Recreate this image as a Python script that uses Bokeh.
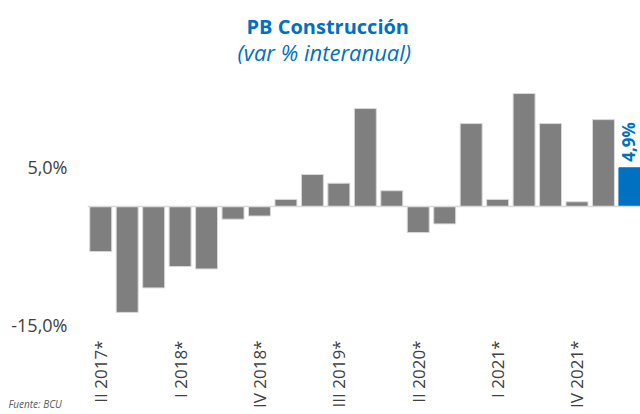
from bokeh.plotting import figure
from bokeh.models import Title, Span, FixedTicker, ColumnDataSource, LabelSet, Label, Range1d
from bokeh.embed import file_html
from bokeh.resources import INLINE
from bokeh.core.properties import value

# ---- data ----
quarters = ["II 2017*", "III 2017*", "IV 2017*", "I 2018*", "II 2018*", "III 2018*",
            "IV 2018*", "I 2019*", "II 2019*", "III 2019*", "IV 2019*", "I 2020*",
            "II 2020*", "III 2020*", "IV 2020*", "I 2021*", "II 2021*", "III 2021*",
            "IV 2021*", "I 2022*", "II 2022*"]
values = [-5.7, -13.4, -10.3, -7.6, -7.9, -1.6, -1.2, 0.9, 4.05, 2.95, 12.4, 2.0,
          -3.3, -2.2, 10.5, 0.9, 14.3, 10.5, 0.6, 11.0, 4.9]
last_label = ["4,9%"]
y_ticks = [-15, 5]
y_tick_labels = ["-15,0%", "5,0%"]
label_step = 3
title_text = "PB Construcción"
subtitle_text = "(var % interanual)"
source_note = "Fuente: BCU"

GRAY = "#7f7f7f"
BLUE = "#0070c0"
TXT = "#404040"
NOTE = "#595959"
FONT = "Open Sans"

n = len(quarters)
xs = list(range(n))
colors = [GRAY] * (n - 1) + [BLUE]
outlines = ["#d9d9d9"] * (n - 1) + [BLUE]
src = ColumnDataSource(dict(x=xs, top=values, color=colors, line=outlines, q=quarters))

p = figure(width=640, height=414, x_range=Range1d(-0.5, n - 0.6),
           y_range=Range1d(-16.45, 15.95), output_backend="svg",
           toolbar_location=None, title=None,
           min_border_left=87, min_border_right=0, min_border_top=80,
           min_border_bottom=78)
p.outline_line_color = None
p.grid.visible = False
p.background_fill_color = "white"

p.vbar(x="x", top="top", bottom=0, width=0.83, fill_color="color",
       line_color="line", line_width=1, source=src)

p.add_layout(Span(location=0, dimension="width", line_color="#d9d9d9", line_width=1.5))

# highlight label on last bar
lsrc = ColumnDataSource(dict(x=[xs[-1]], y=[values[-1]], t=last_label))
p.add_layout(LabelSet(x="x", y="y", text="t", source=lsrc, angle=1.5708,
                      text_align="left", text_baseline="middle", y_offset=6,
                      x_offset=-1,
                      text_font=value(FONT), text_font_size="17px",
                      text_font_style="bold", text_color=BLUE))

# y axis
p.yaxis.ticker = FixedTicker(ticks=y_ticks)
p.yaxis.major_label_overrides = {t: l for t, l in zip(y_ticks, y_tick_labels)}
p.yaxis.axis_line_color = None
p.yaxis.major_tick_line_color = None
p.yaxis.minor_tick_line_color = None
p.yaxis.major_tick_out = 0
p.yaxis.major_tick_in = 0
p.yaxis.major_label_standoff = 20
p.yaxis.major_label_text_font = FONT
p.yaxis.major_label_text_font_size = "18px"
p.yaxis.major_label_text_color = TXT

# x axis
tick_idx = xs[::label_step]
p.xaxis.ticker = FixedTicker(ticks=tick_idx)
p.xaxis.major_label_overrides = {i: quarters[i] for i in tick_idx}
p.xaxis.major_label_orientation = 1.5708
p.xaxis.axis_line_color = None
p.xaxis.major_tick_line_color = None
p.xaxis.minor_tick_line_color = None
p.xaxis.major_tick_out = 0
p.xaxis.major_tick_in = 0
p.xaxis.major_label_standoff = 4
p.xaxis.major_label_text_font = FONT
p.xaxis.major_label_text_font_size = "17px"
p.xaxis.major_label_text_color = TXT

# source note: lives in the top panel (acts as spacer), drawn at the bottom-left
p.add_layout(Label(x=-79, y=-330, x_units="screen", y_units="screen",
                   text=source_note, text_font=FONT, text_font_size="10px",
                   text_font_style="italic", text_color=NOTE,
                   text_baseline="bottom"), "above")
# titles
p.add_layout(Title(text=subtitle_text, align="left", offset=150,
                   text_font=FONT, text_font_size="22px", text_font_style="italic",
                   text_color=BLUE, standoff=0), "above")
p.add_layout(Title(text=title_text, align="left", offset=159,
                   text_font=FONT, text_font_size="20px", text_font_style="bold",
                   text_color=BLUE, standoff=-10), "above")

open("out.html", "w").write(file_html(p, INLINE))
